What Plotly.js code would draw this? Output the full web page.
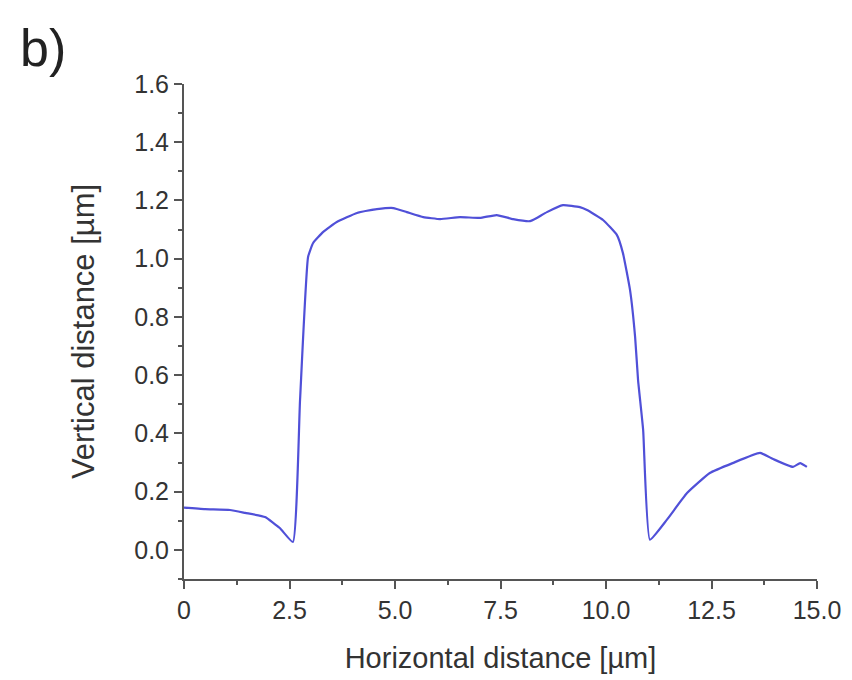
<!DOCTYPE html>
<html>
<head>
<meta charset="utf-8">
<script src="https://cdn.plot.ly/plotly-3.0.1.min.js"></script>
<style>html,body{margin:0;padding:0;background:#fff;}#chart{width:852px;height:680px;}</style>
</head>
<body>
<div id="chart"></div>
<script>
var xDistance = [0, 0.5, 1.09, 1.45, 1.92, 2.27, 2.58, 2.75, 2.94, 3.06, 3.3, 3.62, 4.1, 4.57, 4.96, 5.28, 5.67, 6.07, 6.54, 7.01, 7.41, 7.8, 8.2, 8.36, 8.6, 8.98, 9.38, 9.55, 9.93, 10.26, 10.4, 10.57, 10.69, 10.76, 10.88, 11.04, 11.44, 11.92, 12.46, 13.0, 13.65, 13.96, 14.43, 14.6, 14.76];
var yHeight = [0.145, 0.14, 0.137, 0.127, 0.113, 0.075, 0.027, 0.515, 1.006, 1.054, 1.092, 1.126, 1.157, 1.17, 1.174, 1.16, 1.143, 1.136, 1.143, 1.14, 1.15, 1.136, 1.129, 1.14, 1.16, 1.184, 1.177, 1.167, 1.133, 1.081, 1.02, 0.892, 0.731, 0.583, 0.412, 0.035, 0.103, 0.195, 0.264, 0.298, 0.333, 0.312, 0.285, 0.298, 0.285];
var xTickVals = [0, 2.5, 5, 7.5, 10, 12.5, 15];
var xTickText = ["0", "2.5", "5.0", "7.5", "10.0", "12.5", "15.0"];

var fontFam = "Liberation Sans, Arial, sans-serif";
var axisCol = "#555";
var trace = {
  x: xDistance, y: yHeight, type: "scatter", mode: "lines",
  line: {color: "#5050d8", width: 2.2, shape: "spline", smoothing: 0.4}, hoverinfo: "skip"
};
var layout = {
  width: 852, height: 680,
  margin: {l: 184, r: 35, t: 84, b: 101},
  paper_bgcolor: "#fff", plot_bgcolor: "#fff",
  showlegend: false,
  xaxis: {
    range: [0, 15], showgrid: false, zeroline: false,
    showline: true, linecolor: axisCol, linewidth: 2,
    ticks: "outside", ticklen: 8, tickwidth: 2, tickcolor: axisCol,
    tickvals: xTickVals, ticktext: xTickText,
    tickfont: {family: fontFam, size: 25, color: "#333"},
    minor: {dtick: 1.25, ticks: "outside", ticklen: 4, tickwidth: 2, tickcolor: axisCol, showgrid: false},
    title: {text: "Horizontal distance [µm]", font: {family: fontFam, size: 29, color: "#333"}, standoff: 25}
  },
  yaxis: {
    range: [-0.1, 1.6], showgrid: false, zeroline: false,
    showline: true, linecolor: axisCol, linewidth: 2,
    ticks: "outside", ticklen: 8, tickwidth: 2, tickcolor: axisCol,
    dtick: 0.2, tick0: 0, tickformat: ".1f",
    tickfont: {family: fontFam, size: 25, color: "#333"},
    minor: {dtick: 0.1, ticks: "outside", ticklen: 4, tickwidth: 2, tickcolor: axisCol, showgrid: false},
    title: {text: "Vertical distance [µm]", font: {family: fontFam, size: 31, color: "#333"}, standoff: 30}
  },
  annotations: [{
    text: "b)", xref: "paper", yref: "paper", x: -0.262, y: 1.073,
    xanchor: "left", yanchor: "middle", showarrow: false,
    font: {family: fontFam, size: 52, color: "#222"}
  }]
};
Plotly.newPlot("chart", [trace], layout, {staticPlot: true, displayModeBar: false});
</script>
</body>
</html>
